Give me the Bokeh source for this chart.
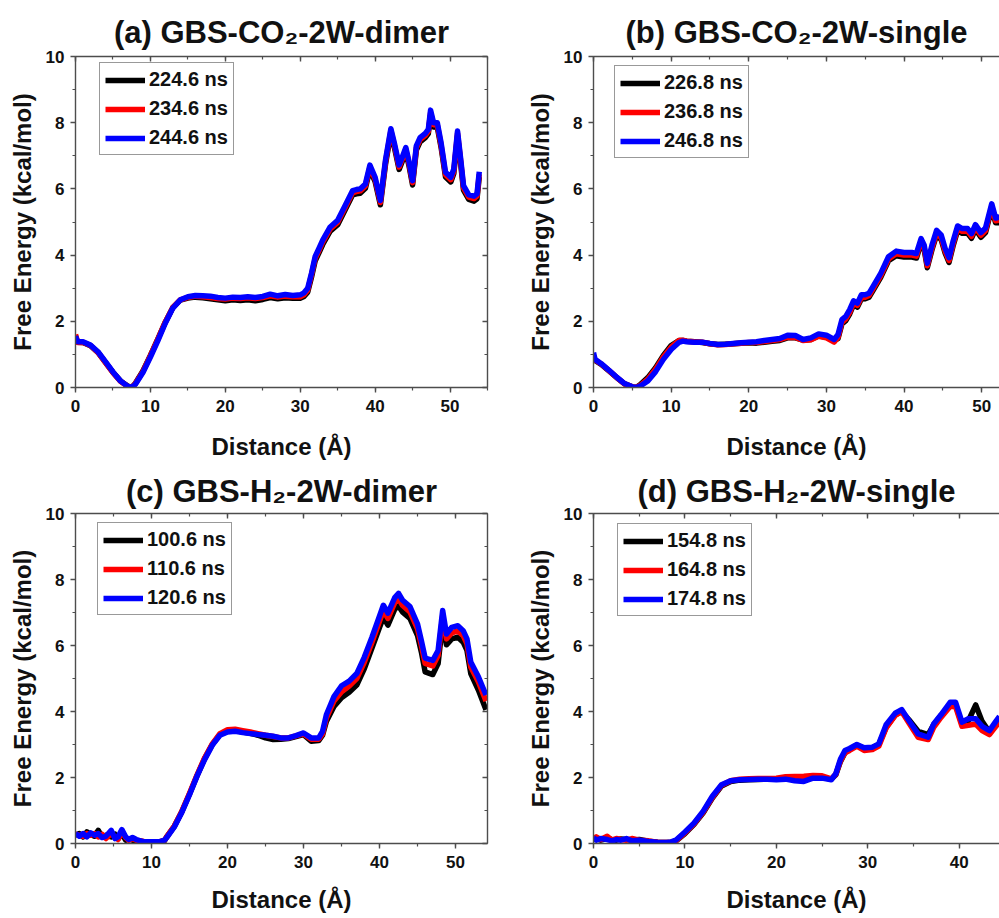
from bokeh.plotting import figure
from bokeh.models import (Range1d, LinearAxis, SingleIntervalTicker, Legend, LegendItem)
from bokeh.layouts import column, row
from bokeh.embed import file_html
from bokeh.resources import INLINE

# ---------------- data ----------------
A_TITLE = "(a) GBS-CO₂-2W-dimer"
A_LABELS = ["224.6 ns", "234.6 ns", "244.6 ns"]
A_X = [0, 0.3, 1, 2, 3, 4, 5, 6, 7, 7.5,
       8, 9, 10, 11, 12, 13, 14, 15, 16, 17,
       18, 19, 20, 21, 22, 23, 24, 25, 26, 27,
       28, 29, 30, 30.5, 31, 31.5, 32, 32.5, 33, 34,
       35, 36, 37, 37.5, 38, 38.7, 39.3, 40, 40.7, 41.4,
       42.1, 42.6, 43.2, 43.6, 44.1, 44.5, 45.0, 45.5, 46, 46.7,
       47.1, 47.4, 47.8, 48.3, 48.8, 49.4, 50.1, 50.5, 51.0, 51.4,
       51.8, 52.5, 53.2, 53.6, 53.9]
A_BLACK = [1.5, 1.37, 1.36, 1.26, 1.06, 0.76, 0.46, 0.2, 0.04, 0.0,
           0.13, 0.5, 0.97, 1.47, 1.98, 2.42, 2.64, 2.7, 2.73, 2.71,
           2.68, 2.65, 2.62, 2.65, 2.63, 2.65, 2.62, 2.66, 2.72, 2.68,
           2.71, 2.7, 2.7, 2.75, 2.88, 3.33, 3.83, 4.07, 4.32, 4.72,
           4.92, 5.37, 5.82, 5.85, 5.87, 6.02, 6.59, 6.22, 5.52, 6.77,
           7.69, 7.22, 6.59, 6.82, 7.12, 6.72, 6.12, 7.17, 7.42, 7.55,
           7.67, 8.22, 7.87, 7.86, 7.26, 6.36, 6.21, 6.46, 7.6, 6.8,
           5.96, 5.68, 5.63, 5.7, 6.36]
A_RED = [1.6, 1.36, 1.37, 1.27, 1.06, 0.75, 0.45, 0.19, 0.03, 0.0,
         0.12, 0.48, 0.96, 1.46, 1.98, 2.42, 2.65, 2.72, 2.76, 2.74,
         2.72, 2.69, 2.67, 2.7, 2.69, 2.71, 2.69, 2.72, 2.77, 2.73,
         2.76, 2.74, 2.74, 2.8, 2.94, 3.4, 3.9, 4.14, 4.39, 4.79,
         4.99, 5.44, 5.89, 5.92, 5.94, 6.09, 6.66, 6.29, 5.59, 6.84,
         7.76, 7.29, 6.66, 6.89, 7.19, 6.79, 6.19, 7.24, 7.49, 7.62,
         7.74, 8.3, 7.94, 7.93, 7.33, 6.43, 6.28, 6.53, 7.68, 6.88,
         6.03, 5.75, 5.71, 5.78, 6.44]
A_BLUE = [1.55, 1.38, 1.38, 1.28, 1.08, 0.78, 0.47, 0.2, 0.03, 0.0,
          0.1, 0.45, 0.92, 1.42, 1.95, 2.4, 2.65, 2.74, 2.78, 2.77,
          2.76, 2.72, 2.7, 2.73, 2.72, 2.74, 2.72, 2.75, 2.82, 2.77,
          2.81, 2.78, 2.8, 2.86, 3.0, 3.45, 3.96, 4.2, 4.45, 4.85,
          5.05, 5.5, 5.95, 5.98, 6.0, 6.15, 6.72, 6.35, 5.65, 6.9,
          7.82, 7.35, 6.72, 6.95, 7.25, 6.85, 6.25, 7.3, 7.55, 7.68,
          7.8, 8.38, 8.0, 8.0, 7.4, 6.5, 6.35, 6.6, 7.75, 6.95,
          6.1, 5.82, 5.78, 5.85, 6.52]

B_TITLE = "(b) GBS-CO₂-2W-single"
B_LABELS = ["226.8 ns", "236.8 ns", "246.8 ns"]
B_X = [0, 0.2, 1, 2, 3, 4, 5, 5.5, 6, 7,
       8, 9, 10, 11, 11.5, 12, 13, 14, 15, 16,
       17, 18, 19, 20, 21, 22, 23, 24, 25, 26,
       27, 28, 29, 30, 31, 31.5, 32, 32.5, 33, 33.5,
       34, 34.5, 35, 35.5, 36, 37, 38, 39, 40, 41,
       41.6, 42.2, 42.6, 43.0, 43.6, 44.2, 44.8, 45.3, 45.8, 46.3,
       46.9, 47.5, 48.2, 48.7, 49.2, 49.9, 50.5, 51.3, 51.8, 52.3]
B_BLACK = [0.9, 0.82, 0.7, 0.5, 0.3, 0.11, 0.02, 0.0, 0.08, 0.3,
           0.6, 0.97, 1.27, 1.42, 1.42, 1.4, 1.38, 1.36, 1.32, 1.3,
           1.31, 1.32, 1.34, 1.35, 1.34, 1.37, 1.4, 1.42, 1.5, 1.5,
           1.43, 1.45, 1.56, 1.52, 1.42, 1.48, 1.92, 2.02, 2.22, 2.5,
           2.43, 2.67, 2.68, 2.73, 2.93, 3.33, 3.83, 3.98, 3.94, 3.94,
           3.91, 4.36, 4.16, 3.62, 4.16, 4.61, 4.46, 4.06, 3.78, 4.26,
           4.74, 4.66, 4.66, 4.51, 4.78, 4.54, 4.68, 5.41, 4.98, 4.98]
B_RED = [0.95, 0.83, 0.71, 0.51, 0.3, 0.11, 0.02, 0.0, 0.06, 0.25,
         0.55, 0.92, 1.22, 1.42, 1.43, 1.4, 1.38, 1.37, 1.32, 1.29,
         1.3, 1.32, 1.34, 1.36, 1.36, 1.39, 1.42, 1.45, 1.52, 1.51,
         1.42, 1.44, 1.55, 1.5, 1.37, 1.52, 1.97, 2.07, 2.27, 2.55,
         2.48, 2.72, 2.73, 2.78, 2.98, 3.38, 3.88, 4.04, 4.0, 4.0,
         3.97, 4.42, 4.22, 3.68, 4.22, 4.67, 4.52, 4.12, 3.84, 4.32,
         4.8, 4.72, 4.72, 4.57, 4.84, 4.6, 4.74, 5.47, 5.04, 5.06]
B_BLUE = [1.05, 0.85, 0.72, 0.52, 0.31, 0.12, 0.02, 0.0, 0.04, 0.2,
          0.48, 0.85, 1.15, 1.36, 1.4, 1.38, 1.37, 1.37, 1.33, 1.3,
          1.31, 1.33, 1.35, 1.37, 1.38, 1.42, 1.45, 1.48, 1.58, 1.57,
          1.45, 1.5, 1.62, 1.58, 1.45, 1.6, 2.05, 2.15, 2.35, 2.62,
          2.55, 2.8, 2.8, 2.85, 3.05, 3.45, 3.95, 4.12, 4.08, 4.08,
          4.05, 4.5, 4.3, 3.75, 4.3, 4.75, 4.6, 4.2, 3.92, 4.4,
          4.88, 4.8, 4.8, 4.65, 4.92, 4.68, 4.82, 5.55, 5.12, 5.15]

C_TITLE = "(c) GBS-H₂-2W-dimer"
C_LABELS = ["100.6 ns", "110.6 ns", "120.6 ns"]
C_X = [0, 0.5, 1, 1.5, 2, 2.5, 3, 3.5, 4, 4.7,
       5.2, 5.6, 6.1, 6.6, 7, 7.5, 8, 9, 10, 11,
       11.7, 12, 13, 14, 15, 16, 17, 18, 19, 20,
       21, 22, 23, 24, 25, 26, 27, 28, 29, 30,
       31, 32, 32.5, 33, 34, 35, 36, 37, 38, 39,
       40, 40.5, 41.1, 42, 42.5, 43, 44, 45, 45.5, 46,
       47, 47.7, 48.3, 48.8, 49.5, 50.3, 51, 51.5, 52, 53,
       54]
C_BLACK = [0.25, 0.3, 0.2, 0.35, 0.28, 0.22, 0.4, 0.2, 0.25, 0.2,
           0.28, 0.15, 0.3, 0.1, 0.14, 0.1, 0.08, 0.05, 0.05, 0.04,
           0.08, 0.2, 0.52, 0.97, 1.5, 2.06, 2.58, 3.0, 3.3, 3.4,
           3.42, 3.38, 3.34, 3.28, 3.2, 3.15, 3.16, 3.18, 3.24, 3.3,
           3.1, 3.12, 3.28, 3.7, 4.15, 4.42, 4.58, 4.8, 5.3, 5.92,
           6.55, 6.85, 6.62, 7.1, 7.2, 7.02, 6.82, 6.3, 5.8, 5.2,
           5.12, 5.45, 6.7, 6.02, 6.2, 6.25, 6.1, 5.85, 5.15, 4.65,
           4.05]
C_RED = [0.28, 0.25, 0.22, 0.3, 0.25, 0.3, 0.2, 0.28, 0.15, 0.3,
         0.2, 0.12, 0.35, 0.18, 0.1, 0.15, 0.1, 0.06, 0.05, 0.05,
         0.1, 0.2, 0.53, 0.98, 1.52, 2.08, 2.6, 3.02, 3.33, 3.45,
         3.46, 3.42, 3.38, 3.33, 3.28, 3.24, 3.2, 3.2, 3.26, 3.32,
         3.16, 3.16, 3.32, 3.8, 4.32, 4.6, 4.77, 5.0, 5.5, 6.1,
         6.74, 7.06, 6.82, 7.3, 7.42, 7.22, 7.02, 6.5, 6.0, 5.46,
         5.38, 5.7, 6.9, 6.2, 6.38, 6.44, 6.3, 6.05, 5.35, 4.9,
         4.32]
C_BLUE = [0.3, 0.22, 0.3, 0.2, 0.32, 0.25, 0.3, 0.18, 0.22, 0.4,
          0.15, 0.2, 0.42, 0.2, 0.12, 0.18, 0.12, 0.05, 0.05, 0.05,
          0.1, 0.18, 0.5, 0.95, 1.48, 2.05, 2.55, 2.98, 3.28, 3.38,
          3.4, 3.36, 3.33, 3.3, 3.28, 3.25, 3.2, 3.2, 3.27, 3.35,
          3.2, 3.2, 3.4, 3.9, 4.45, 4.78, 4.92, 5.15, 5.65, 6.25,
          6.9, 7.22, 6.98, 7.45, 7.58, 7.38, 7.18, 6.65, 6.15, 5.62,
          5.55, 5.85, 7.06, 6.35, 6.55, 6.6, 6.45, 6.2, 5.5, 5.05,
          4.5]

D_TITLE = "(d) GBS-H₂-2W-single"
D_LABELS = ["154.8 ns", "164.8 ns", "174.8 ns"]
D_X = [0, 0.3, 0.8, 1.5, 2, 2.5, 3, 3.6, 4.2, 5,
       6, 7, 8, 8.5, 9, 10, 11, 12, 13, 14,
       15, 16, 17, 18, 19, 20, 21, 22, 23, 24,
       25, 26, 26.5, 27, 27.5, 28, 28.8, 29.6, 30.5, 31.2,
       32, 33, 33.7, 34.5, 35.5, 36.6, 37.2, 38, 39, 39.6,
       40.3, 41, 41.8, 42.5, 43.3, 44, 44.4]
D_BLACK = [0.12, 0.15, 0.1, 0.15, 0.12, 0.1, 0.14, 0.12, 0.1, 0.12,
           0.07, 0.04, 0.03, 0.04, 0.07, 0.3, 0.58, 0.93, 1.38, 1.74,
           1.88, 1.92, 1.93, 1.94, 1.95, 1.95, 1.96, 1.95, 1.96, 2.0,
           2.0, 1.95, 2.08, 2.48, 2.75, 2.85, 2.98, 2.88, 2.9, 3.0,
           3.52, 3.9, 4.0, 3.75, 3.4, 3.3, 3.6, 3.88, 4.2, 4.2,
           3.62, 3.72, 4.2, 3.7, 3.38, 3.62, 3.78]
D_RED = [0.15, 0.2, 0.12, 0.22, 0.1, 0.15, 0.12, 0.1, 0.15, 0.1,
         0.08, 0.04, 0.03, 0.04, 0.08, 0.32, 0.6, 0.95, 1.4, 1.76,
         1.9, 1.95, 1.96, 1.97, 1.97, 1.98, 2.02, 2.03, 2.04, 2.06,
         2.05, 1.96, 2.1, 2.5, 2.75, 2.82, 2.95, 2.82, 2.85, 2.95,
         3.5, 3.88, 4.0, 3.65, 3.22, 3.15, 3.52, 3.82, 4.15, 4.15,
         3.55, 3.58, 3.62, 3.42, 3.3, 3.55, 3.7]
D_BLUE = [0.18, 0.1, 0.15, 0.12, 0.08, 0.12, 0.1, 0.15, 0.08, 0.1,
          0.06, 0.04, 0.03, 0.05, 0.1, 0.35, 0.62, 0.98, 1.43, 1.78,
          1.9, 1.93, 1.94, 1.95, 1.95, 1.93, 1.95, 1.9, 1.88, 1.98,
          1.98, 1.93, 2.12, 2.55, 2.82, 2.88, 3.0, 2.9, 2.92, 3.02,
          3.6, 3.95, 4.06, 3.72, 3.32, 3.22, 3.62, 3.9, 4.28, 4.28,
          3.68, 3.78, 3.78, 3.55, 3.42, 3.7, 3.85]

SERIES_COLORS = ["#000000", "#ff0000", "#0000ff"]
X_LABEL = "Distance (Å)"
Y_LABEL = "Free Energy (kcal/mol)"

FONT = "Liberation Sans"
AXIS_COLOR = "#4d4d4d"


def style_axis(ax, show_labels=True, inward=False):
    ax.axis_line_color = AXIS_COLOR
    ax.axis_line_width = 1.4
    ax.major_tick_line_color = AXIS_COLOR
    ax.minor_tick_line_color = AXIS_COLOR
    ax.major_tick_line_width = 1.4
    ax.minor_tick_line_width = 1.2
    if inward:
        ax.major_tick_in, ax.major_tick_out = 5, 0
        ax.minor_tick_in, ax.minor_tick_out = 3, 0
    else:
        ax.major_tick_in, ax.major_tick_out = 0, 5
        ax.minor_tick_in, ax.minor_tick_out = 0, 3
    ax.major_label_text_font = FONT
    ax.major_label_text_font_style = "bold"
    if show_labels:
        ax.major_label_text_color = "#111111"
        ax.major_label_text_font_size = "17px"
    else:
        # frame-only axis: ticks drawn, labels not painted
        ax.major_label_text_color = None
        ax.major_label_text_font_size = "1px"
        ax.major_label_standoff = 0


def panel(title, xs, ys, labels, xmax, width, height, bl, br, bt, bb,
          legend_loc, right_frame, xlabel_standoff, title_standoff, title_offset):
    p = figure(width=width, height=height,
               x_range=Range1d(0, xmax), y_range=Range1d(0, 10),
               output_backend="svg", toolbar_location=None,
               min_border_left=bl, min_border_right=br,
               min_border_top=bt, min_border_bottom=bb,
               x_axis_label=X_LABEL, y_axis_label=Y_LABEL)
    p.xgrid.visible = False
    p.ygrid.visible = False
    p.outline_line_color = None
    p.background_fill_color = "white"
    p.border_fill_color = "white"

    p.xaxis.ticker = SingleIntervalTicker(interval=10, num_minor_ticks=2)
    p.yaxis.ticker = SingleIntervalTicker(interval=2, num_minor_ticks=2)
    for ax in (p.xaxis[0], p.yaxis[0]):
        style_axis(ax)
        ax.axis_label_text_font = FONT
        ax.axis_label_text_font_style = "bold"
        ax.axis_label_text_font_size = "24px"
        ax.axis_label_text_color = "#111111"
    p.xaxis[0].major_label_standoff = 7
    p.xaxis[0].axis_label_standoff = xlabel_standoff
    p.yaxis[0].major_label_standoff = 6
    p.yaxis[0].axis_label_standoff = 7

    top = LinearAxis(ticker=SingleIntervalTicker(interval=10, num_minor_ticks=2))
    style_axis(top, show_labels=False, inward=True)
    p.add_layout(top, "above")
    if right_frame:
        right = LinearAxis(ticker=SingleIntervalTicker(interval=2, num_minor_ticks=2))
        style_axis(right, show_labels=False, inward=True)
        p.add_layout(right, "right")

    p.title.text = title
    p.title.align = "center"
    p.title.offset = title_offset
    p.title.text_font = FONT
    p.title.text_font_style = "bold"
    p.title.text_font_size = "31px"
    p.title.text_color = "#111111"
    p.title.standoff = title_standoff

    items = []
    for y, c, lab in zip(ys, SERIES_COLORS, labels):
        r = p.line(xs, y, line_color=c, line_width=5.5, line_join="round")
        items.append(LegendItem(label=lab, renderers=[r]))
    leg = Legend(items=items, location=legend_loc)
    leg.label_text_font = FONT
    leg.label_text_font_style = "bold"
    leg.label_text_font_size = "20px"
    leg.label_text_color = "#111111"
    leg.glyph_width = 40
    leg.glyph_height = 20
    leg.label_height = 20
    leg.spacing = 6
    leg.padding = 5
    leg.margin = 0
    leg.label_standoff = 4
    leg.border_line_color = "#333333"
    leg.border_line_width = 1
    leg.background_fill_color = "white"
    leg.background_fill_alpha = 1
    p.add_layout(leg, "center")
    return p


pa = panel(A_TITLE, A_X, [A_BLACK, A_RED, A_BLUE], A_LABELS, 55.0,
           500, 465, 75, 13, 56, 78, (24, 232), True, 18, 14, -3)
pb = panel(B_TITLE, B_X, [B_BLACK, B_RED, B_BLUE], B_LABELS, 52.3,
           499, 465, 93, 0, 56, 78, (21, 229), False, 18, 14, -5)
pc = panel(C_TITLE, C_X, [C_BLACK, C_RED, C_BLUE], C_LABELS, 54.2,
           500, 453, 75, 13, 48, 75, (22, 228), True, 15, 10, 8)
pd = panel(D_TITLE, D_X, [D_BLACK, D_RED, D_BLUE], D_LABELS, 44.4,
           499, 453, 93, 0, 48, 75, (24, 227), False, 15, 10, 6)

layout = column(row(pa, pb, spacing=0), row(pc, pd, spacing=0), spacing=0)

open("out.html", "w").write(file_html(layout, INLINE))
